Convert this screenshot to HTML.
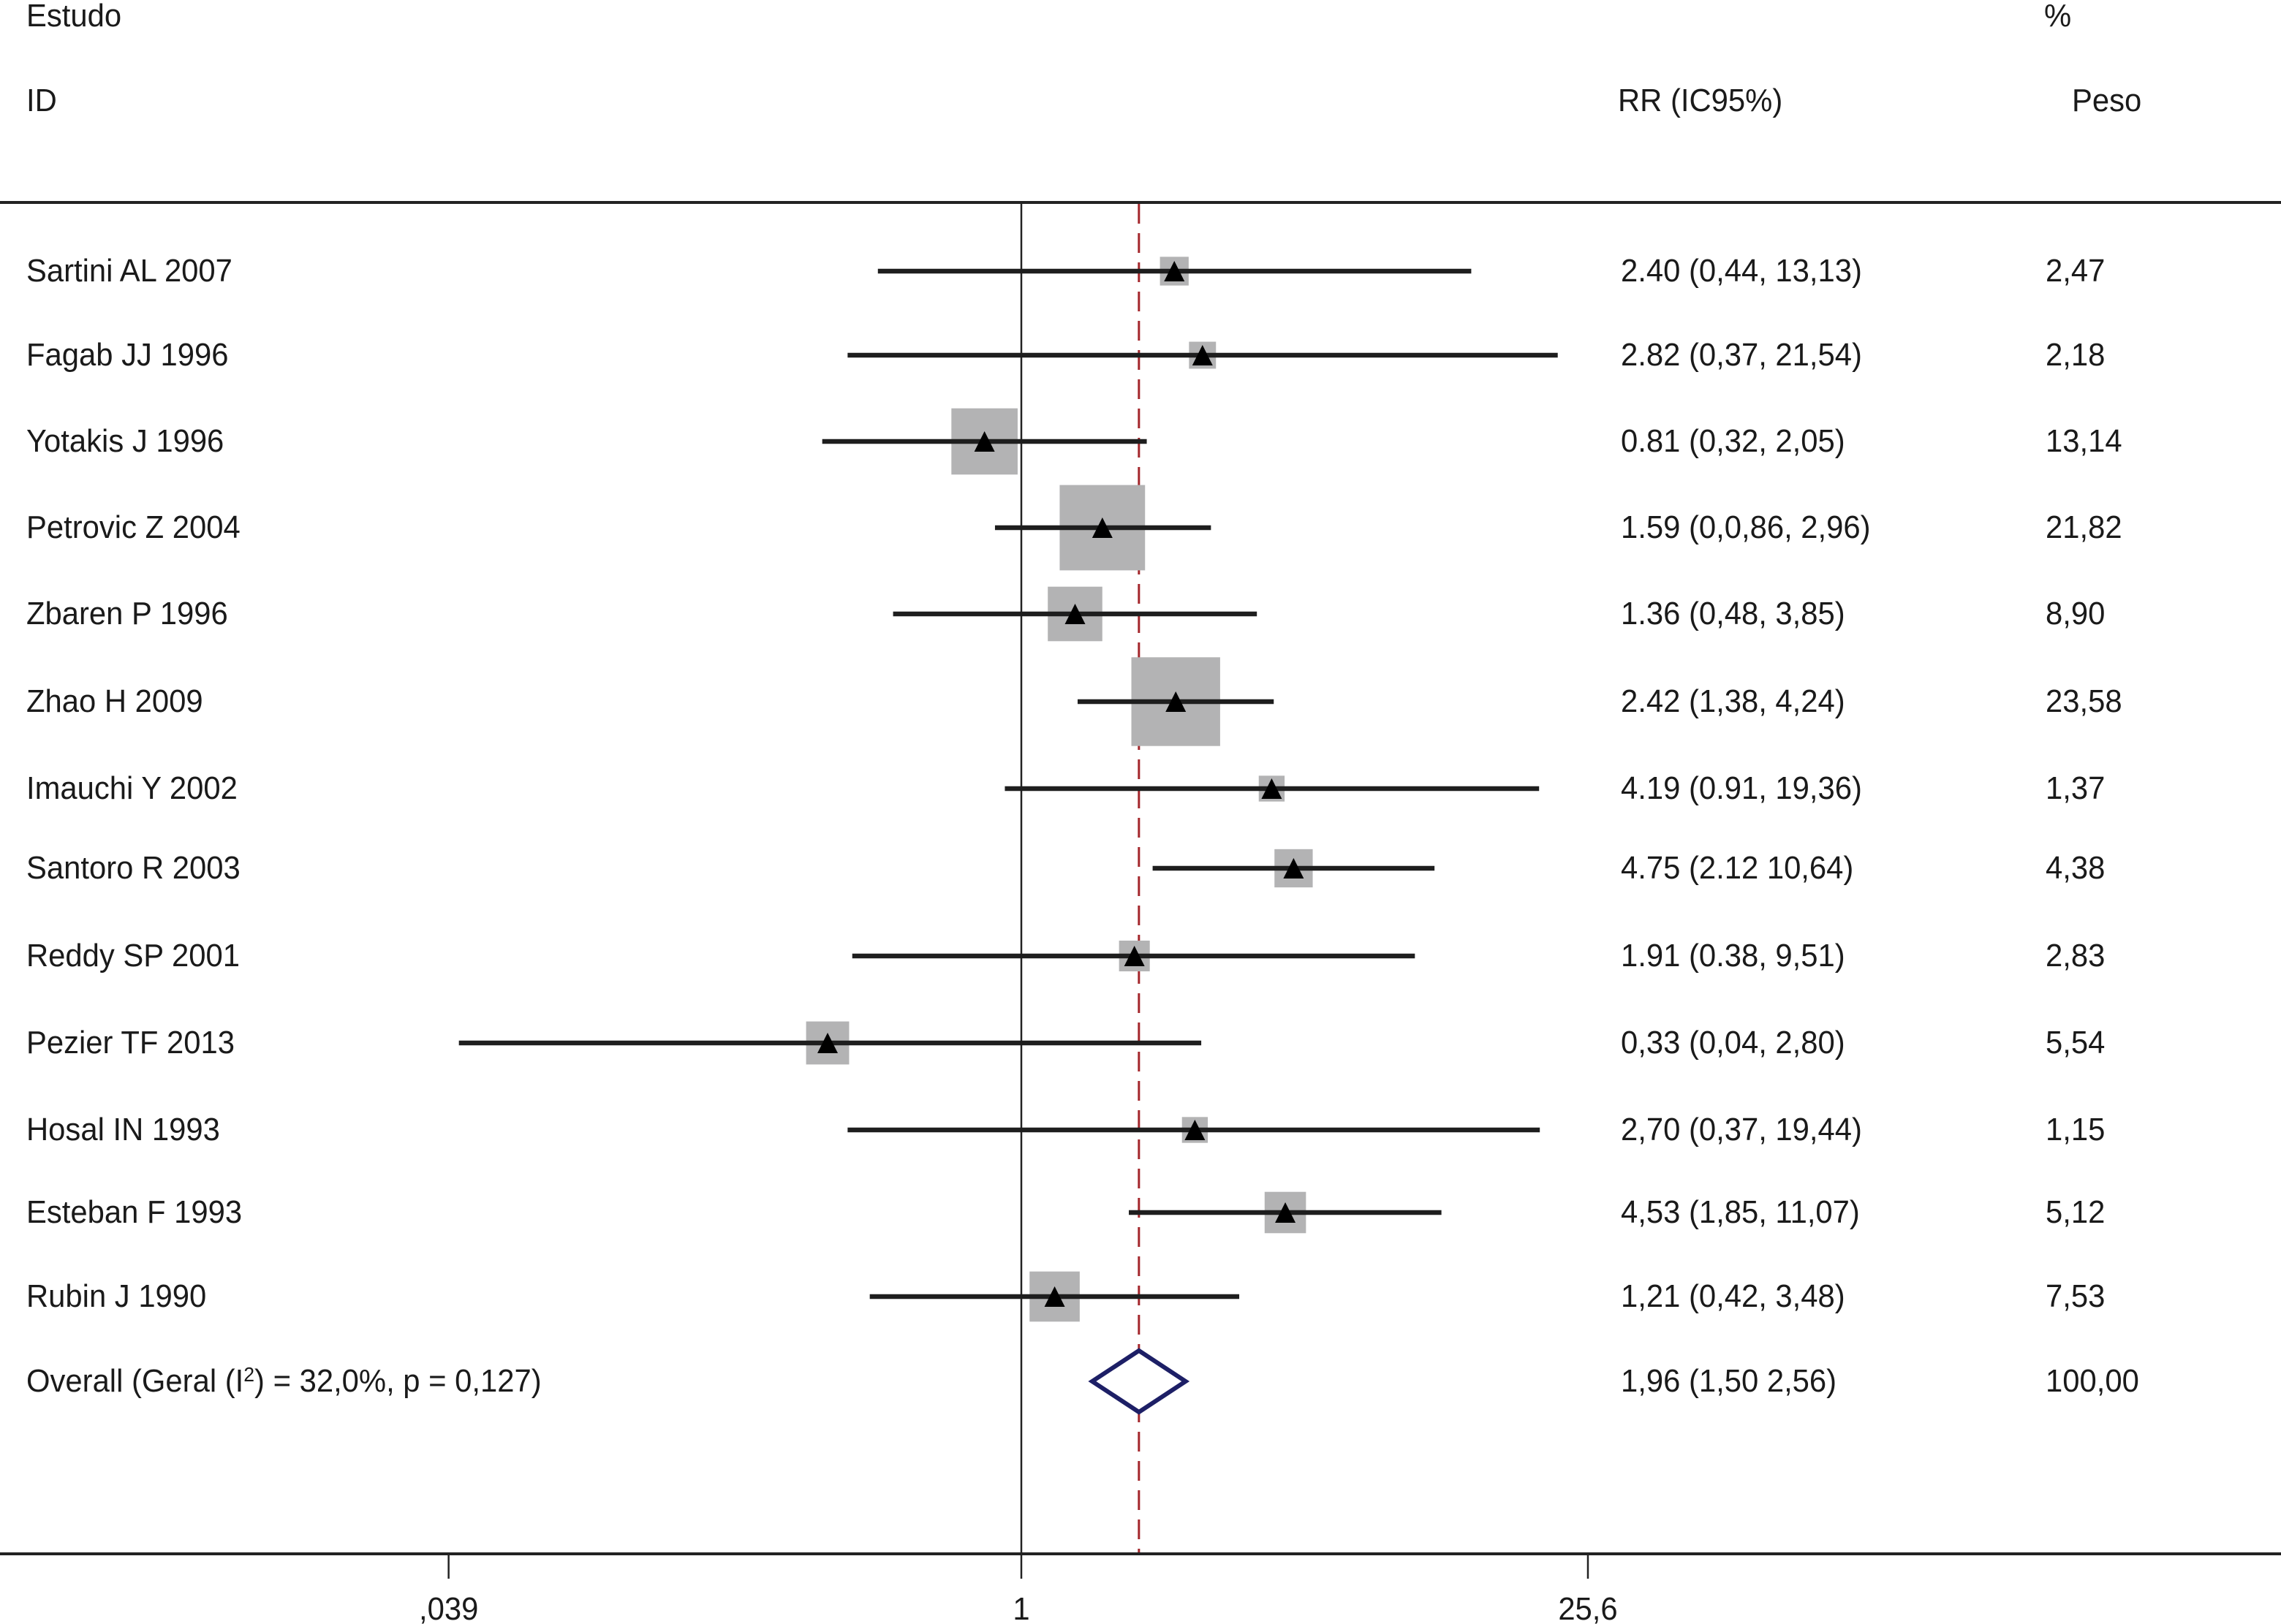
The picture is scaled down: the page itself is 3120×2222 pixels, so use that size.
<!DOCTYPE html>
<html><head><meta charset="utf-8">
<style>
html,body{margin:0;padding:0;background:#fff;}
svg{display:block;}
text{font-family:"Liberation Sans",Arial,sans-serif;font-size:44px;fill:#1a1a1a;}
</style></head>
<body>
<svg id="chart" width="3120" height="2222" viewBox="0 0 3120 2222" xmlns="http://www.w3.org/2000/svg">
<g id="g-back"></g><g id="g-marks"></g><g id="g-text"></g>
</svg>
<script>
const studies = ["Sartini AL 2007","Fagab JJ 1996","Yotakis J 1996","Petrovic Z 2004","Zbaren P 1996","Zhao H 2009","Imauchi Y 2002","Santoro R 2003","Reddy SP 2001","Pezier TF 2013","Hosal IN 1993","Esteban F 1993","Rubin J 1990"];
const rr = [2.40,2.82,0.81,1.59,1.36,2.42,4.19,4.75,1.91,0.33,2.70,4.53,1.21];
const lower = [0.44,0.37,0.32,0.86,0.48,1.38,0.91,2.12,0.38,0.04,0.37,1.85,0.42];
const upper = [13.13,21.54,2.05,2.96,3.85,4.24,19.36,10.64,9.51,2.80,19.44,11.07,3.48];
const weights = [2.47,2.18,13.14,21.82,8.90,23.58,1.37,4.38,2.83,5.54,1.15,5.12,7.53];
const rrLabels = ["2.40 (0,44, 13,13)","2.82 (0,37, 21,54)","0.81 (0,32, 2,05)","1.59 (0,0,86, 2,96)","1.36 (0,48, 3,85)","2.42 (1,38, 4,24)","4.19 (0.91, 19,36)","4.75 (2.12 10,64)","1.91 (0.38, 9,51)","0,33 (0,04, 2,80)","2,70 (0,37, 19,44)","4,53 (1,85, 11,07)","1,21 (0,42, 3,48)"];
const weightLabels = ["2,47","2,18","13,14","21,82","8,90","23,58","1,37","4,38","2,83","5,54","1,15","5,12","7,53"];
const rowYs = [371,486,604,722,840,960,1079,1188,1308,1427,1546,1659,1774];
const overall = [1.96,1.50,2.56];
const tickValues = [0.039,1,25.6];
const tickLabels = [",039","1","25,6"];

const NS="http://www.w3.org/2000/svg";
const X1=1397, PXLN=239;
const SX=0.95;
function xs(v){return X1+PXLN*Math.log(v);}
const gB=document.getElementById('g-back'),gM=document.getElementById('g-marks'),gT=document.getElementById('g-text');
function el(tag,attrs,parent){const e=document.createElementNS(NS,tag);for(const k in attrs)e.setAttribute(k,attrs[k]);parent.appendChild(e);return e;}
function txt(x,y,s,anchor){const t=el('text',{transform:`translate(${x},${y}) scale(${SX},1)`},gT);if(anchor)t.setAttribute('text-anchor',anchor);t.textContent=s;return t;}

let t;
t=txt(36,36,"Estudo");
t=txt(2796,36,"%");
t=txt(36,152,"ID");
t=txt(2213,152,"RR (IC95%)");
t=txt(2834,152,"Peso");

let l;
l=el('line',{x1:0,x2:3120,y1:277,y2:277,stroke:'#222',"stroke-width":4},gB);

l=el('line',{x1:0,x2:3120,y1:2126,y2:2126,stroke:'#222',"stroke-width":4},gB);

l=el('line',{x1:xs(1),x2:xs(1),y1:277,y2:2126,stroke:'#222',"stroke-width":2.5},gB);

l=el('line',{x1:xs(overall[0]),x2:xs(overall[0]),y1:279,y2:2124,stroke:'#a3262b',"stroke-width":3,"stroke-dasharray":"27 13"},gB);


tickValues.forEach((v,i)=>{
  const tk=el('line',{x1:xs(v)-8*(v<1),x2:xs(v)-8*(v<1),y1:2126,y2:2160,stroke:'#222',"stroke-width":2.5},gB);
  
  const tl=txt(xs(v)-8*(v<1),2216,tickLabels[i],'middle');
  
});

studies.forEach((s,i)=>{
  const y=rowYs[i];
  const side=25*Math.sqrt(Math.max(weights[i],2));
  const b=el('rect',{x:xs(rr[i])-side/2,y:y-side/2,width:side,height:side,fill:'#b3b3b4'},gM);
  
  const c=el('line',{x1:xs(lower[i]),x2:xs(upper[i]),y1:y,y2:y,stroke:'#1e1e1e',"stroke-width":6.5},gM);
  
  const px=xs(rr[i]);
  const tr=el('polygon',{points:`${px},${y-14} ${px-14},${y+14} ${px+14},${y+14}`,fill:'#000'},gM);
  
  const a=txt(36,y+14,s);
  const r=txt(2217,y+14,rrLabels[i]);
  const w=txt(2798,y+14,weightLabels[i]);
});

const oy=1890;
const d=el('polygon',{points:`${xs(overall[1])},${oy} ${xs(overall[0])},${oy-42} ${xs(overall[2])},${oy} ${xs(overall[0])},${oy+42}`,fill:'#fff',stroke:'#1d1f66',"stroke-width":6},gM);

const ot=el('text',{transform:`translate(36,${oy+14}) scale(${SX},1)`},gT);

ot.innerHTML='Overall (Geral (I<tspan dy="-14" font-size="28">2</tspan><tspan dy="14">) = 32,0%, p = 0,127)</tspan>';
let o2=txt(2217,oy+14,"1,96 (1,50 2,56)");
let o3=txt(2798,oy+14,"100,00");
</script>
</body></html>
